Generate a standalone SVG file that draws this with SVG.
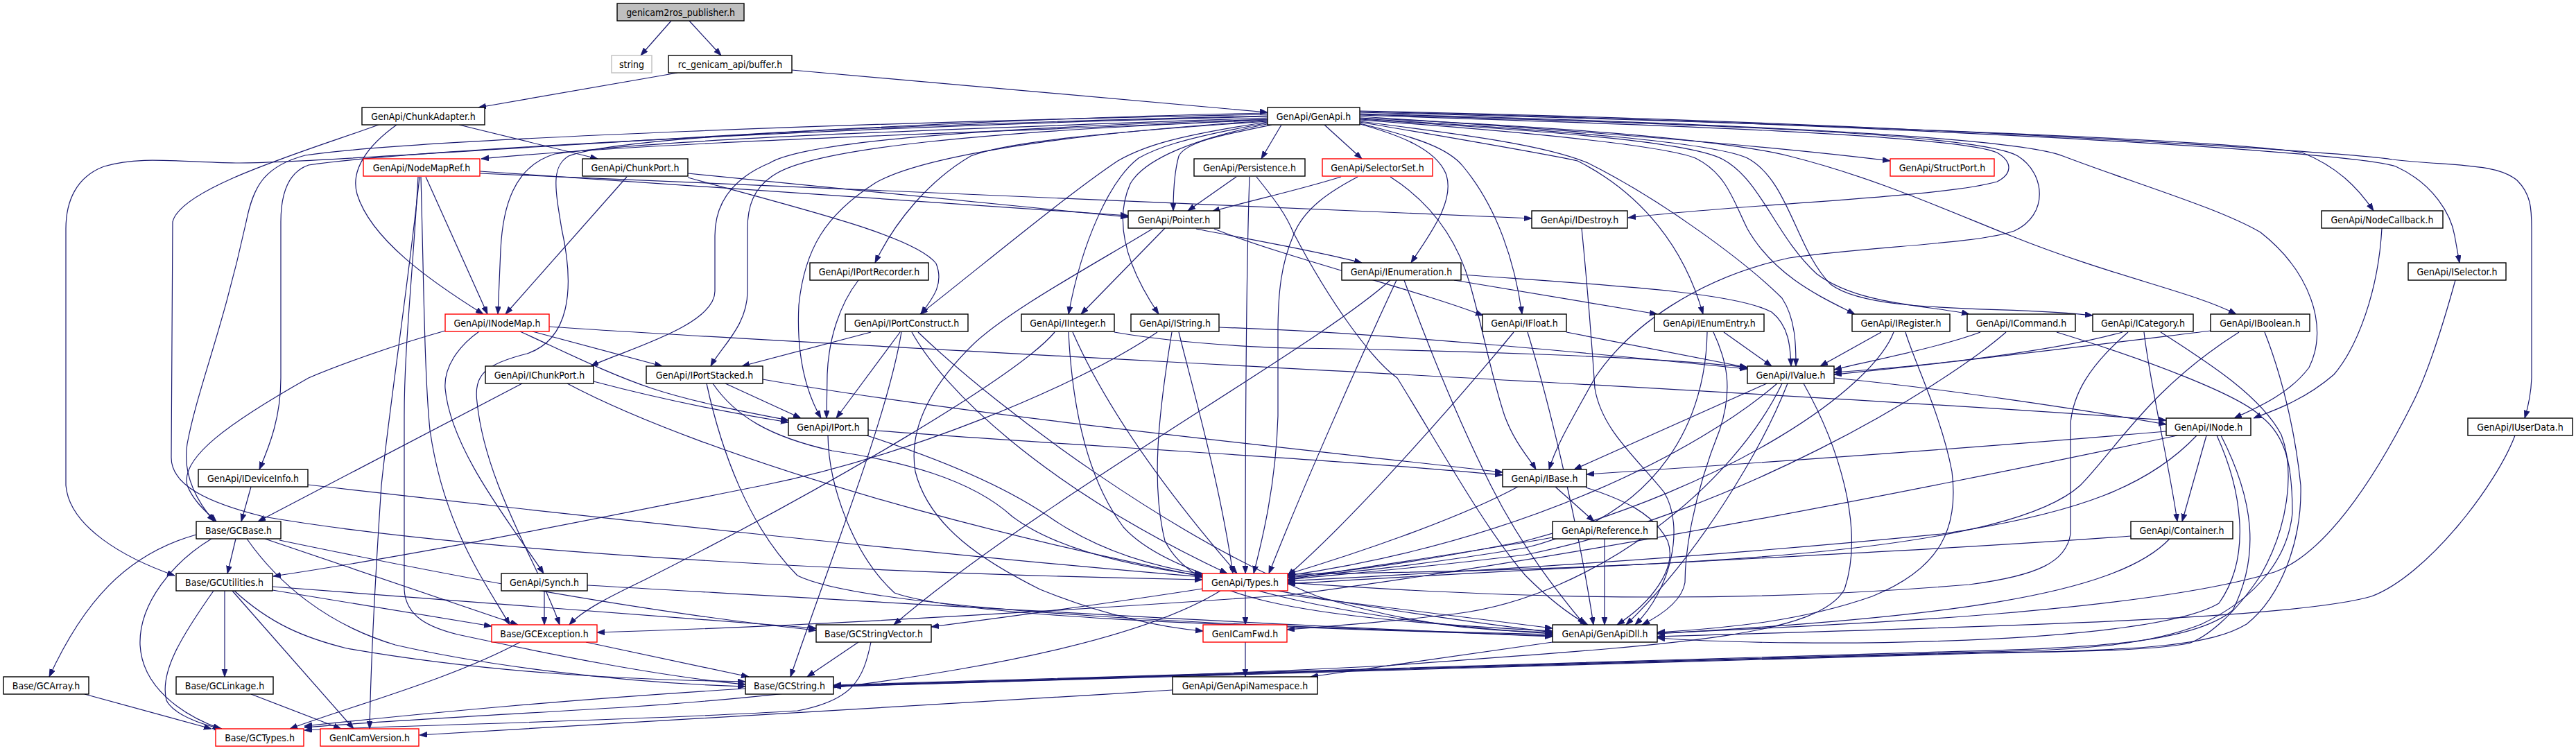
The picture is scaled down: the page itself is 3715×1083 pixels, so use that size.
<svg xmlns="http://www.w3.org/2000/svg" width="3715" height="1083" viewBox="0 0 3715 1083">
<style>
.node rect{fill:#ffffff;stroke:#000000;stroke-width:1.4}
.node.red rect{stroke:#ff0000}
.node.root rect{fill:#bfbfbf}
.node.ext rect{stroke:#bfbfbf}
.node text{font-family:"DejaVu Sans Condensed","DejaVu Sans",sans-serif;font-stretch:condensed;font-size:14px;text-anchor:middle;fill:#000000}
.edges path{fill:none;stroke:#191970;stroke-width:1.2;marker-end:url(#arr)}
</style>
<defs>
<marker id="arr" markerUnits="userSpaceOnUse" markerWidth="12" markerHeight="10" refX="11" refY="4" orient="auto">
<path d="M0,0 L11,4 L0,8 z" fill="#191970" stroke="#191970" stroke-width="0.8"/>
</marker>
</defs>
<rect x="0" y="0" width="3715" height="1083" fill="#ffffff"/>
<g id="edges" class="edges">
<path d="M968,30 L924,80"/>
<path d="M994,30 L1040,80"/>
<path d="M977,105 L690,155"/>
<path d="M1142,101 L1828,162"/>
<path d="M662,180 L862,229"/>
<path d="M572,180 C530,210 505,245 515,280 C535,345 620,405 697,453"/>
<path d="M546,180 C450,215 260,270 249,320 L247,660 C247,700 300,725 380,745 C700,800 1300,828 1734,836"/>
<path d="M1828,172 C1500,190 1000,200 694,229"/>
<path d="M1828,170 C1400,185 950,200 800,222 C740,240 725,300 722,360 L718,453"/>
<path d="M1828,168 C1300,180 600,215 445,238 C410,250 405,290 405,320 L405,545 C405,600 390,640 374,677"/>
<path d="M1828,165 C1300,175 600,200 440,224 C380,240 365,270 355,320 C320,480 285,560 270,640 C262,690 290,730 309,752"/>
<path d="M1828,163 C1200,175 500,235 340,235 C250,233 200,225 150,240 C110,255 95,290 95,330 L95,700 C100,760 180,805 252,830"/>
<path d="M1828,167 C1300,180 900,195 820,225 C795,240 800,270 810,330 C830,420 820,490 760,510 C700,525 683,540 688,580 C700,700 780,820 807,901"/>
<path d="M1828,172 C1400,185 1160,205 1110,235 C1050,260 1031,300 1031,340 L1031,420 C1031,470 900,505 852,528"/>
<path d="M1828,173 C1400,190 1180,215 1120,250 C1085,270 1078,300 1078,330 L1078,420 C1078,470 1040,500 1025,528"/>
<path d="M1828,174 C1500,195 1320,230 1262,264 C1190,310 1160,360 1152,440 C1148,520 1165,570 1184,603"/>
<path d="M1828,175 C1600,190 1450,205 1400,225 C1340,260 1290,320 1262,379"/>
<path d="M1828,176 C1700,195 1650,210 1612,232 C1540,280 1420,380 1327,453"/>
<path d="M1830,177 C1700,200 1665,215 1642,228 C1600,260 1560,350 1541,453"/>
<path d="M1832,178 C1720,200 1650,230 1630,265 C1610,310 1615,370 1671,453"/>
<path d="M1834,180 C1760,195 1710,205 1700,225 C1693,250 1692,280 1692,304"/>
<path d="M1848,180 L1819,229"/>
<path d="M1910,180 L1964,229"/>
<path d="M1958,178 C2020,195 2070,215 2085,250 C2100,290 2060,340 2035,379"/>
<path d="M1961,178 C2050,200 2090,215 2110,240 C2160,300 2185,380 2195,453"/>
<path d="M1961,176 C2100,200 2220,220 2275,232 C2370,280 2430,360 2456,453"/>
<path d="M1961,175 C2120,195 2230,210 2290,235 C2400,290 2520,380 2570,430 C2590,460 2590,500 2590,528"/>
<path d="M1961,173 C2200,190 2400,210 2445,228 C2490,250 2500,290 2520,330 C2560,400 2630,430 2675,453"/>
<path d="M1961,172 C2250,190 2440,205 2485,230 C2540,260 2560,340 2620,395 C2680,440 2780,440 2840,453"/>
<path d="M1961,171 C2250,188 2470,205 2520,228 C2580,260 2590,360 2640,410 C2700,455 2900,440 3018,455"/>
<path d="M1961,170 C2300,185 2500,205 2580,225 C2700,255 2800,300 2900,340 C3050,400 3160,420 3225,453"/>
<path d="M1961,168 C2300,190 2550,210 2726,232"/>
<path d="M1961,166 C2400,180 2820,195 2880,220 C2905,235 2900,252 2880,262 C2800,285 2500,295 2348,314"/>
<path d="M1961,165 C2400,178 2850,190 2910,225 C2950,250 2955,310 2905,333 C2850,352 2700,355 2580,372 C2450,400 2350,470 2300,545 C2270,600 2245,640 2234,677"/>
<path d="M1961,164 C2400,175 2900,195 2975,225 C3080,265 3200,300 3260,335 C3330,390 3360,470 3330,530 C3300,570 3250,590 3222,603"/>
<path d="M1961,162 C2500,175 3200,200 3320,220 C3370,240 3400,270 3423,304"/>
<path d="M1961,161 C2600,175 3380,215 3455,240 C3510,265 3535,310 3540,340 L3547,379"/>
<path d="M1961,160 C2700,175 3400,220 3450,230 C3540,240 3600,235 3630,260 C3650,280 3651,300 3651,330 L3651,545 C3650,570 3645,590 3641,603"/>
<path d="M692,247 L1627,311"/>
<path d="M692,250 L2209,315"/>
<path d="M614,255 L703,453"/>
<path d="M605,255 C590,400 560,600 550,700 C540,850 535,950 533,1051"/>
<path d="M603,255 C595,400 583,500 583,600 L583,850 C585,890 620,905 660,915 C800,945 950,975 1075,987"/>
<path d="M607,255 C611,400 612,540 620,620 C640,760 700,840 735,901"/>
<path d="M904,255 L729,453"/>
<path d="M992,250 L1627,313"/>
<path d="M992,256 C1150,300 1320,340 1350,380 C1362,410 1345,430 1328,453"/>
<path d="M1783,255 L1713,304"/>
<path d="M1802,255 C1797,400 1796,600 1796,827"/>
<path d="M1812,255 C1840,290 1855,310 1865,335 C1920,440 1980,520 2015,545 C2080,650 2140,760 2200,830 C2240,870 2270,890 2290,901"/>
<path d="M1934,255 C1870,275 1800,290 1748,305"/>
<path d="M2005,255 C2060,290 2100,340 2120,410 C2140,480 2150,540 2170,600 C2185,640 2205,660 2215,677"/>
<path d="M1958,255 C1920,275 1880,300 1865,340 C1848,380 1843,420 1843,480 L1843,600 C1840,700 1820,780 1808,827"/>
<path d="M1680,329 L1559,453"/>
<path d="M1725,330 C1800,345 1900,362 1964,379"/>
<path d="M1751,330 C1850,370 2050,420 2139,455"/>
<path d="M1662,330 C1580,380 1450,450 1400,500 C1340,560 1310,620 1320,680 C1340,760 1420,810 1500,850 C1600,890 1680,905 1735,910"/>
<path d="M1238,404 C1210,440 1195,490 1193,540 L1192,603"/>
<path d="M1256,479 L1070,528"/>
<path d="M1298,479 L1206,603"/>
<path d="M1315,479 C1360,560 1500,700 1770,827"/>
<path d="M1324,479 C1450,600 1700,780 1900,860 C2050,905 2150,910 2239,912"/>
<path d="M1300,479 C1280,600 1200,800 1140,976"/>
<path d="M1607,479 C1700,495 1800,500 1860,502 C2100,505 2400,515 2520,530"/>
<path d="M1547,479 C1600,600 1700,730 1784,827"/>
<path d="M1541,479 C1545,560 1560,680 1620,760 C1700,850 2000,900 2239,914"/>
<path d="M1521,479 C1470,540 1200,700 930,836 C880,860 840,880 821,901"/>
<path d="M1669,479 C1550,560 1300,660 1100,700 C800,760 600,800 394,831"/>
<path d="M1758,472 C2000,480 2300,510 2520,532"/>
<path d="M1700,479 C1720,560 1760,700 1778,827"/>
<path d="M1690,479 C1670,600 1660,700 1680,780 C1720,860 1850,890 2239,910"/>
<path d="M2005,404 C1900,500 1500,720 1289,901"/>
<path d="M2014,404 C1960,520 1880,700 1830,827"/>
<path d="M2025,404 C2060,500 2100,600 2150,700 C2200,800 2260,870 2285,901"/>
<path d="M2107,396 C2300,410 2500,420 2555,450 C2580,470 2582,500 2583,528"/>
<path d="M2097,404 L2390,453"/>
<path d="M2259,479 L2520,530"/>
<path d="M2183,479 C2100,580 1950,750 1857,830"/>
<path d="M2203,479 C2240,600 2280,780 2298,901"/>
<path d="M2486,479 L2555,528"/>
<path d="M2462,479 C2460,600 2400,740 2200,790 C2050,815 1950,825 1857,833"/>
<path d="M2471,479 C2490,520 2500,560 2480,620 C2440,720 2430,800 2430,840 C2425,870 2390,890 2368,901"/>
<path d="M2713,479 L2625,528"/>
<path d="M2731,479 C2700,560 2500,700 2200,780 C2000,820 1900,828 1857,831"/>
<path d="M2748,479 C2760,520 2800,600 2815,680 C2825,760 2800,820 2700,860 C2600,895 2500,905 2390,912"/>
<path d="M2856,479 C2800,500 2700,520 2645,533"/>
<path d="M2893,479 C2800,560 2500,740 2200,800 C2000,825 1900,830 1857,836"/>
<path d="M2966,479 C3100,520 3230,570 3260,600 C3300,630 3306,680 3306,740 C3300,800 3260,860 3175,900 C3100,930 3000,938 2860,940 C2300,955 1700,975 1202,989"/>
<path d="M3061,479 C2950,510 2750,530 2645,537"/>
<path d="M3069,479 C3010,530 2990,570 2986,610 L2986,770 C2980,810 2940,830 2840,843 C2400,880 2000,850 1857,840"/>
<path d="M3092,479 C3100,550 3130,680 3140,752"/>
<path d="M3116,479 C3180,520 3260,570 3290,627 C3310,680 3300,760 3260,830 C3220,890 3180,920 3156,928 C3100,938 3000,940 2860,941 C2300,956 1700,976 1202,989"/>
<path d="M3188,477 C3000,500 2800,525 2645,540"/>
<path d="M3229,479 C3100,560 3050,650 3000,700 C2900,790 2500,820 1857,828"/>
<path d="M3266,479 C3290,540 3310,620 3318,700 C3320,780 3290,860 3240,900 C3190,930 3100,938 2860,942 C2300,957 1700,977 1202,990"/>
<path d="M3124,622 C2800,650 2500,670 2288,684"/>
<path d="M3168,628 C3100,700 3000,740 2800,770 C2400,810 2000,830 1857,838"/>
<path d="M3182,628 L3147,752"/>
<path d="M3197,628 C3230,700 3250,800 3200,870 C3100,930 2600,935 2390,920"/>
<path d="M3203,628 C3250,720 3260,800 3220,880 C3160,930 3000,935 2800,940 C2200,960 1600,980 1202,988"/>
<path d="M3140,628 C2800,700 2300,800 1860,858 C1400,890 1100,905 861,912"/>
<path d="M3073,773 C2700,800 2200,820 1857,842"/>
<path d="M3129,777 C3050,860 2800,890 2390,914"/>
<path d="M3435,329 C3430,420 3400,500 3366,540 C3320,580 3270,595 3250,603"/>
<path d="M3541,404 C3520,480 3500,540 3480,580 C3420,700 3350,800 3280,825 C3100,880 2700,900 2390,913"/>
<path d="M3627,628 C3600,700 3500,830 3420,860 C3300,895 2800,905 2390,918"/>
<path d="M2548,553 L2270,677"/>
<path d="M2563,553 C2450,650 2200,780 1857,830"/>
<path d="M2578,553 C2540,650 2450,800 2345,901"/>
<path d="M2645,545 C2800,560 3000,590 3124,612"/>
<path d="M2601,553 C2650,640 2690,760 2660,850 C2620,920 2400,930 2000,960 C1700,975 1400,985 1202,990"/>
<path d="M2570,553 C2500,700 2300,860 2100,885 C2000,897 1920,903 1856,908"/>
<path d="M642,477 C560,500 480,530 445,545 C330,610 260,660 270,700 C280,725 300,740 312,752"/>
<path d="M691,478 C660,500 640,530 642,560 C650,650 740,760 784,827"/>
<path d="M768,478 L955,528"/>
<path d="M750,478 C820,510 880,540 940,560 C1000,580 1080,595 1137,606"/>
<path d="M792,471 C1200,500 2500,560 3124,606"/>
<path d="M753,553 L372,752"/>
<path d="M856,550 C950,575 1050,595 1137,609"/>
<path d="M818,553 C1000,650 1500,820 2239,912"/>
<path d="M1046,553 L1155,603"/>
<path d="M1028,553 C1060,600 1110,630 1200,650 C1300,665 1400,690 1460,745 C1520,790 1620,815 1734,830"/>
<path d="M1019,553 C1040,650 1080,760 1150,830 C1250,880 1800,905 2239,915"/>
<path d="M1100,547 C1400,600 1900,650 2167,681"/>
<path d="M1252,620 C1500,640 1900,660 2167,685"/>
<path d="M1250,628 C1350,660 1450,700 1520,750 C1580,790 1650,815 1734,828"/>
<path d="M1194,628 C1195,700 1230,800 1290,855 C1400,895 1900,905 2239,917"/>
<path d="M362,702 L348,752"/>
<path d="M444,699 C800,740 1400,805 1734,832"/>
<path d="M283,771 C180,800 120,870 71,976"/>
<path d="M305,777 C250,810 200,870 202,930 C205,990 260,1030 318,1051"/>
<path d="M340,777 L328,827"/>
<path d="M382,777 L747,901"/>
<path d="M356,777 C400,840 470,900 570,930 C700,960 900,985 1075,990"/>
<path d="M403,779 C600,820 900,880 1177,909"/>
<path d="M308,852 C260,920 230,970 240,1010 C250,1030 290,1045 320,1051"/>
<path d="M324,852 L324,976"/>
<path d="M335,852 L510,1051"/>
<path d="M393,851 L709,903"/>
<path d="M338,852 C390,900 440,920 500,935 C700,970 900,980 1075,983"/>
<path d="M393,846 L1177,906"/>
<path d="M785,852 L785,901"/>
<path d="M847,844 C1300,870 1800,900 2239,918"/>
<path d="M1796,852 L1796,901"/>
<path d="M1734,849 C1600,870 1450,890 1343,904"/>
<path d="M1760,852 C1600,950 1200,1000 900,1020 C700,1032 550,1040 439,1049"/>
<path d="M1857,858 L2239,906"/>
<path d="M750,926 C650,980 500,1020 418,1051"/>
<path d="M845,926 L1080,976"/>
<path d="M1238,926 L1164,976"/>
<path d="M1256,926 C1245,980 1230,1010 1150,1025 C900,1040 600,1045 439,1053"/>
<path d="M1796,926 L1796,976"/>
<path d="M2239,926 L1890,976"/>
<path d="M1075,993 C800,1010 600,1030 439,1047"/>
<path d="M1691,995 C1300,1020 900,1045 605,1060"/>
<path d="M122,1001 L305,1051"/>
<path d="M362,1001 L492,1051"/>
<path d="M2239,775 C2100,800 1950,820 1857,836"/>
<path d="M2314,777 L2314,901"/>
<path d="M2189,702 C2100,750 1950,800 1857,828"/>
<path d="M2243,702 L2299,752"/>
<path d="M2287,703 C2340,720 2385,740 2405,780 C2420,820 2380,870 2332,901"/>
<path d="M2281,329 C2290,420 2296,500 2300,560 C2310,620 2360,660 2400,710 C2430,760 2410,850 2358,901"/>
</g>
<g id="n_root" class="node root"><rect x="890" y="5" width="183" height="25"/><text x="981.5" y="22.5">genicam2ros_publisher.h</text></g>
<g id="n_string" class="node ext"><rect x="882" y="80" width="58" height="25"/><text x="911" y="97.5">string</text></g>
<g id="n_buffer" class="node"><rect x="964" y="80" width="178" height="25"/><text x="1053" y="97.5">rc_genicam_api/buffer.h</text></g>
<g id="n_chunkadapter" class="node"><rect x="522" y="155" width="177" height="25"/><text x="610.5" y="172.5">GenApi/ChunkAdapter.h</text></g>
<g id="n_genapi" class="node"><rect x="1828" y="155" width="133" height="25"/><text x="1894.5" y="172.5">GenApi/GenApi.h</text></g>
<g id="n_nodemapref" class="node red"><rect x="524" y="229" width="168" height="25"/><text x="608" y="246.5">GenApi/NodeMapRef.h</text></g>
<g id="n_chunkport" class="node"><rect x="840" y="229" width="152" height="25"/><text x="916" y="246.5">GenApi/ChunkPort.h</text></g>
<g id="n_persistence" class="node"><rect x="1722" y="229" width="160" height="25"/><text x="1802" y="246.5">GenApi/Persistence.h</text></g>
<g id="n_selectorset" class="node red"><rect x="1907" y="229" width="159" height="25"/><text x="1986.5" y="246.5">GenApi/SelectorSet.h</text></g>
<g id="n_structport" class="node red"><rect x="2726" y="229" width="150" height="25"/><text x="2801" y="246.5">GenApi/StructPort.h</text></g>
<g id="n_pointer" class="node"><rect x="1627" y="304" width="132" height="25"/><text x="1693" y="321.5">GenApi/Pointer.h</text></g>
<g id="n_idestroy" class="node"><rect x="2209" y="304" width="138" height="25"/><text x="2278" y="321.5">GenApi/IDestroy.h</text></g>
<g id="n_nodecallback" class="node"><rect x="3348" y="304" width="175" height="25"/><text x="3435.5" y="321.5">GenApi/NodeCallback.h</text></g>
<g id="n_iportrecorder" class="node"><rect x="1168" y="379" width="171" height="25"/><text x="1253.5" y="396.5">GenApi/IPortRecorder.h</text></g>
<g id="n_ienumeration" class="node"><rect x="1935" y="379" width="172" height="25"/><text x="2021" y="396.5">GenApi/IEnumeration.h</text></g>
<g id="n_iselector" class="node"><rect x="3473" y="379" width="141" height="25"/><text x="3543.5" y="396.5">GenApi/ISelector.h</text></g>
<g id="n_inodemap" class="node red"><rect x="642" y="453" width="150" height="25"/><text x="717" y="470.5">GenApi/INodeMap.h</text></g>
<g id="n_iportconstruct" class="node"><rect x="1219" y="453" width="177" height="25"/><text x="1307.5" y="470.5">GenApi/IPortConstruct.h</text></g>
<g id="n_iinteger" class="node"><rect x="1473" y="453" width="134" height="25"/><text x="1540" y="470.5">GenApi/IInteger.h</text></g>
<g id="n_istring" class="node"><rect x="1631" y="453" width="127" height="25"/><text x="1694.5" y="470.5">GenApi/IString.h</text></g>
<g id="n_ifloat" class="node"><rect x="2138" y="453" width="121" height="25"/><text x="2198.5" y="470.5">GenApi/IFloat.h</text></g>
<g id="n_ienumentry" class="node"><rect x="2386" y="453" width="158" height="25"/><text x="2465" y="470.5">GenApi/IEnumEntry.h</text></g>
<g id="n_iregister" class="node"><rect x="2671" y="453" width="141" height="25"/><text x="2741.5" y="470.5">GenApi/IRegister.h</text></g>
<g id="n_icommand" class="node"><rect x="2837" y="453" width="156" height="25"/><text x="2915" y="470.5">GenApi/ICommand.h</text></g>
<g id="n_icategory" class="node"><rect x="3018" y="453" width="145" height="25"/><text x="3090.5" y="470.5">GenApi/ICategory.h</text></g>
<g id="n_iboolean" class="node"><rect x="3188" y="453" width="143" height="25"/><text x="3259.5" y="470.5">GenApi/IBoolean.h</text></g>
<g id="n_ichunkport" class="node"><rect x="700" y="528" width="156" height="25"/><text x="778" y="545.5">GenApi/IChunkPort.h</text></g>
<g id="n_iportstacked" class="node"><rect x="932" y="528" width="168" height="25"/><text x="1016" y="545.5">GenApi/IPortStacked.h</text></g>
<g id="n_ivalue" class="node"><rect x="2520" y="528" width="125" height="25"/><text x="2582.5" y="545.5">GenApi/IValue.h</text></g>
<g id="n_iport" class="node"><rect x="1137" y="603" width="115" height="25"/><text x="1194.5" y="620.5">GenApi/IPort.h</text></g>
<g id="n_inode" class="node"><rect x="3124" y="603" width="122" height="25"/><text x="3185" y="620.5">GenApi/INode.h</text></g>
<g id="n_iuserdata" class="node"><rect x="3559" y="603" width="151" height="25"/><text x="3634.5" y="620.5">GenApi/IUserData.h</text></g>
<g id="n_ideviceinfo" class="node"><rect x="286" y="677" width="158" height="25"/><text x="365" y="694.5">GenApi/IDeviceInfo.h</text></g>
<g id="n_ibase" class="node"><rect x="2167" y="677" width="121" height="25"/><text x="2227.5" y="694.5">GenApi/IBase.h</text></g>
<g id="n_gcbase" class="node"><rect x="283" y="752" width="122" height="25"/><text x="344" y="769.5">Base/GCBase.h</text></g>
<g id="n_reference" class="node"><rect x="2239" y="752" width="151" height="25"/><text x="2314.5" y="769.5">GenApi/Reference.h</text></g>
<g id="n_container" class="node"><rect x="3073" y="752" width="147" height="25"/><text x="3146.5" y="769.5">GenApi/Container.h</text></g>
<g id="n_gcutilities" class="node"><rect x="254" y="827" width="139" height="25"/><text x="323.5" y="844.5">Base/GCUtilities.h</text></g>
<g id="n_synch" class="node"><rect x="723" y="827" width="124" height="25"/><text x="785" y="844.5">GenApi/Synch.h</text></g>
<g id="n_types" class="node red"><rect x="1734" y="827" width="123" height="25"/><text x="1795.5" y="844.5">GenApi/Types.h</text></g>
<g id="n_gcexception" class="node red"><rect x="709" y="901" width="152" height="25"/><text x="785" y="918.5">Base/GCException.h</text></g>
<g id="n_gcstringvector" class="node"><rect x="1177" y="901" width="166" height="25"/><text x="1260" y="918.5">Base/GCStringVector.h</text></g>
<g id="n_genicamfwd" class="node red"><rect x="1735" y="901" width="121" height="25"/><text x="1795.5" y="918.5">GenICamFwd.h</text></g>
<g id="n_genapidll" class="node"><rect x="2239" y="901" width="151" height="25"/><text x="2314.5" y="918.5">GenApi/GenApiDll.h</text></g>
<g id="n_gcarray" class="node"><rect x="5" y="976" width="123" height="25"/><text x="66.5" y="993.5">Base/GCArray.h</text></g>
<g id="n_gclinkage" class="node"><rect x="254" y="976" width="140" height="25"/><text x="324" y="993.5">Base/GCLinkage.h</text></g>
<g id="n_gcstring" class="node"><rect x="1075" y="976" width="127" height="25"/><text x="1138.5" y="993.5">Base/GCString.h</text></g>
<g id="n_genapinamespace" class="node"><rect x="1691" y="976" width="209" height="25"/><text x="1795.5" y="993.5">GenApi/GenApiNamespace.h</text></g>
<g id="n_gctypes" class="node red"><rect x="311" y="1051" width="127" height="25"/><text x="374.5" y="1068.5">Base/GCTypes.h</text></g>
<g id="n_genicamversion" class="node red"><rect x="462" y="1051" width="142" height="25"/><text x="533" y="1068.5">GenICamVersion.h</text></g>
</svg>
